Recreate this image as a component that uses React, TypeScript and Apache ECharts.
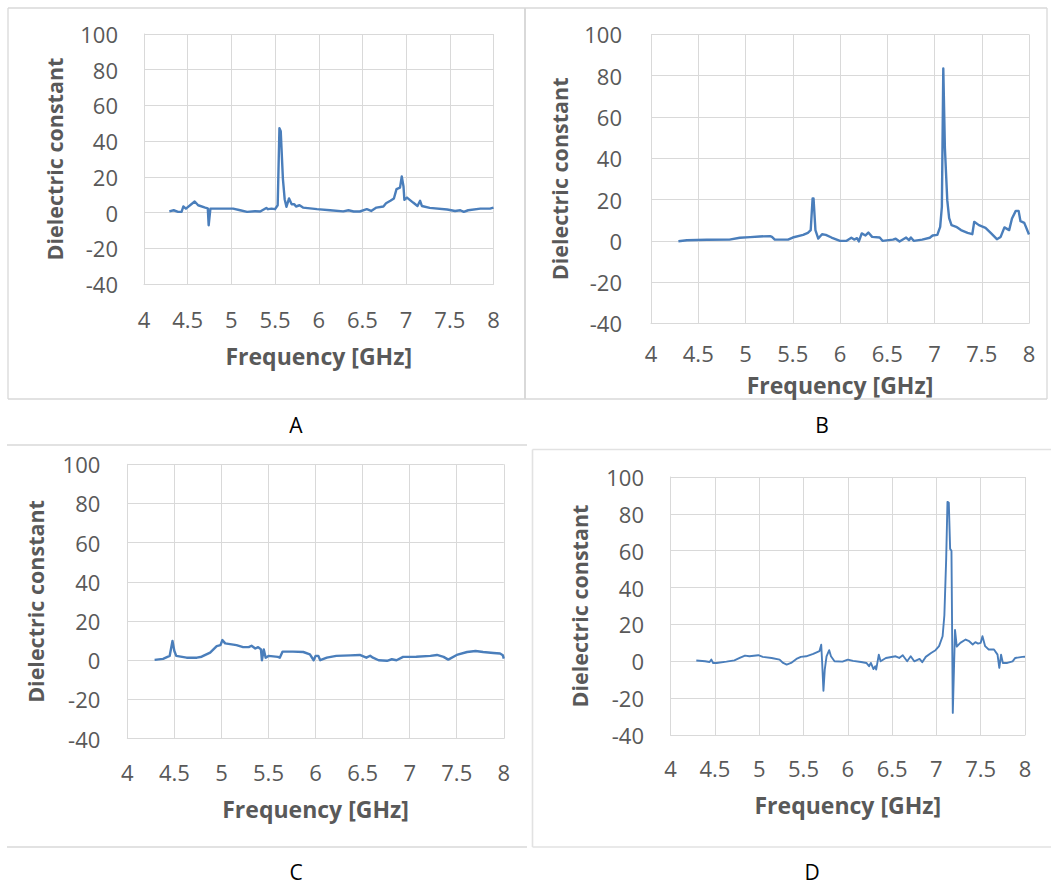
import React, { useEffect, useRef } from "react";
import * as echarts from "echarts";

// ---------- data ----------
const panelLabels = ["A", "B", "C", "D"];
const xAxisTitle = "Frequency [GHz]";
const yAxisTitle = "Dielectric constant";
const xMin = 4;
const xMax = 8;
const xStep = 0.5;
const yMin = -40;
const yMax = 100;
const yStep = 20;

const freqA = [4.29, 4.34, 4.39, 4.43, 4.45, 4.48, 4.58, 4.62, 4.70, 4.73, 4.74, 4.76, 5.02, 5.10, 5.18, 5.27, 5.33, 5.40, 5.42, 5.46, 5.50, 5.53, 5.55, 5.565, 5.59, 5.61, 5.63, 5.66, 5.69, 5.72, 5.74, 5.78, 5.82, 5.98, 6.13, 6.28, 6.34, 6.40, 6.47, 6.55, 6.60, 6.66, 6.74, 6.77, 6.82, 6.86, 6.89, 6.93, 6.95, 6.97, 6.98, 7.01, 7.08, 7.13, 7.16, 7.18, 7.27, 7.47, 7.56, 7.62, 7.66, 7.71, 7.85, 7.96, 8.0];
const epsA = [0.7, 1.3, 0.4, 0.4, 3.4, 2.2, 6.2, 4.1, 2.8, 2.4, -7.1, 2.2, 2.2, 1.3, 0.4, 0.7, 0.6, 2.6, 1.9, 2.2, 1.9, 4.1, 47.2, 45.5, 18.7, 7.5, 3.2, 7.9, 4.7, 4.7, 3.4, 4.1, 2.8, 1.9, 1.3, 0.7, 1.3, 0.6, 0.6, 1.9, 0.9, 2.8, 3.4, 5.2, 6.6, 7.9, 13.1, 14, 20.2, 14.6, 7.1, 8.4, 5.6, 3.7, 6.6, 3.7, 2.6, 1.7, 0.9, 1.3, 0.4, 1.3, 2.2, 2.2, 2.8];

const freqB = [4.29, 4.38, 4.59, 4.83, 4.94, 5.05, 5.15, 5.26, 5.28, 5.31, 5.36, 5.45, 5.50, 5.61, 5.66, 5.69, 5.71, 5.72, 5.74, 5.77, 5.81, 5.85, 5.91, 6.0, 6.07, 6.12, 6.15, 6.18, 6.20, 6.23, 6.27, 6.30, 6.34, 6.42, 6.45, 6.56, 6.59, 6.63, 6.70, 6.73, 6.75, 6.78, 6.87, 6.95, 6.98, 7.03, 7.06, 7.078, 7.093, 7.11, 7.135, 7.155, 7.18, 7.23, 7.28, 7.35, 7.40, 7.42, 7.47, 7.54, 7.60, 7.66, 7.70, 7.74, 7.79, 7.82, 7.86, 7.89, 7.91, 7.95, 8.0];
const epsB = [-0.2, 0.3, 0.5, 0.6, 1.5, 1.8, 2.1, 2.3, 1.9, 0.6, 0.6, 0.6, 1.6, 2.9, 3.9, 5.2, 20.5, 20.5, 5.2, 1.1, 3.2, 2.9, 1.6, 0, 0, 1.5, 0.6, 1.3, -0.3, 3.6, 2.6, 4.0, 1.9, 1.6, 0, 0.6, 1.0, -0.3, 1.6, 0.3, 1.6, 0, 0.6, 1.5, 2.6, 2.9, 6.8, 16.5, 83.5, 45, 19.7, 11, 7.6, 6.8, 5.2, 3.9, 3.2, 9.2, 7.6, 6.3, 3.6, 0.8, 1.9, 6.5, 5.2, 10.8, 14.5, 14.5, 9.5, 8.7, 3.1];

const freqC = [4.29, 4.38, 4.45, 4.48, 4.50, 4.52, 4.63, 4.74, 4.79, 4.88, 4.95, 4.99, 5.01, 5.04, 5.16, 5.23, 5.29, 5.32, 5.36, 5.39, 5.42, 5.43, 5.45, 5.47, 5.50, 5.60, 5.62, 5.65, 5.76, 5.87, 5.94, 5.98, 6.00, 6.03, 6.05, 6.12, 6.22, 6.37, 6.47, 6.54, 6.58, 6.61, 6.67, 6.76, 6.81, 6.86, 6.93, 7.07, 7.22, 7.29, 7.36, 7.41, 7.50, 7.61, 7.70, 7.78, 7.89, 7.96, 7.99, 8.0];
const epsC = [0.2, 0.7, 2.2, 9.8, 4.7, 2.2, 1.3, 1.3, 1.8, 3.9, 7.2, 7.7, 10.3, 8.6, 7.7, 6.7, 6.7, 7.4, 6.0, 6.7, 5.5, 0, 5.5, 1.3, 2.2, 1.7, 1.3, 4.4, 4.4, 4.2, 3.0, 0, 2.2, 2.2, 0, 1.3, 2.2, 2.5, 2.7, 1.3, 2.3, 1.3, 0, -0.3, 0.5, 0, 1.7, 1.8, 2.2, 2.7, 1.7, 0.3, 2.7, 4.2, 4.7, 4.2, 3.7, 3.4, 2.5, 0.8];

const freqD = [4.29, 4.39, 4.44, 4.46, 4.48, 4.52, 4.63, 4.72, 4.78, 4.84, 4.89, 4.99, 5.04, 5.14, 5.23, 5.27, 5.31, 5.36, 5.42, 5.47, 5.53, 5.61, 5.68, 5.70, 5.71, 5.725, 5.74, 5.76, 5.79, 5.81, 5.85, 5.94, 6.00, 6.06, 6.15, 6.21, 6.24, 6.26, 6.29, 6.31, 6.32, 6.35, 6.37, 6.43, 6.54, 6.58, 6.62, 6.67, 6.71, 6.75, 6.81, 6.84, 6.88, 6.94, 6.99, 7.03, 7.07, 7.09, 7.11, 7.125, 7.14, 7.155, 7.17, 7.185, 7.21, 7.23, 7.27, 7.33, 7.37, 7.41, 7.44, 7.47, 7.50, 7.52, 7.55, 7.59, 7.65, 7.69, 7.71, 7.73, 7.75, 7.80, 7.86, 7.89, 7.97, 8.0];
const epsD = [0.4, 0, -0.4, 0.9, -0.9, -0.9, -0.2, 0.5, 1.8, 3.1, 2.7, 3.3, 2.4, 1.8, 0.9, -0.9, -1.8, -0.9, 1.3, 2.4, 2.7, 4.0, 5.5, 9.0, 0, -16, -4.5, 2.7, 6.0, 2.7, 0, -0.2, 0.9, 0.2, -0.4, -0.9, -2.7, -0.9, -4.2, -2.7, -4.5, 3.6, 0, 1.8, 2.7, 1.8, 3.3, 0, 2.7, 0, 1.3, -0.5, 2.4, 4.5, 6.0, 8.2, 13.6, 25, 55, 86.5, 86, 61, 60, -28, 17, 8, 10, 11.8, 10.9, 9.1, 10.4, 9.6, 10, 13.6, 8.2, 6.4, 6.4, 3.6, -3.6, 3.6, -0.9, -0.9, 0, 1.8, 2.4, 2.5];

const freqs = [freqA, freqB, freqC, freqD];
const values = [epsA, epsB, epsC, epsD];

// ---------- layout / style ----------
const W = 1051;
const H = 886;
const FONT = "'Open Sans', 'Noto Sans', sans-serif";
const TEXT = "#595959";
const GRIDC = "#d9d9d9";
const LINEC = "#4a7ebb";

const layouts = [
  { left: 144, top: 34, width: 349.5, height: 250, xm: 24, ym: 26, xg: 60, yg: 79, lw: 2.4, cap: [296, 425] },
  { left: 651, top: 34.4, width: 378, height: 289, xm: 19, ym: 29, xg: 50, yg: 81, lw: 2.4, cap: [822, 425] },
  { left: 127.3, top: 464.3, width: 376.5, height: 274.3, xm: 22, ym: 27, xg: 59, yg: 80.5, lw: 2.4, cap: [296, 872] },
  { left: 670.6, top: 477, width: 354.4, height: 258, xm: 21.5, ym: 26.6, xg: 58.5, yg: 80.6, lw: 1.9, cap: [812, 872] },
];

function frameLine(x1: number, y1: number, x2: number, y2: number, color = GRIDC, w = 1.3) {
  return { type: "line", silent: true, shape: { x1, y1, x2, y2 }, style: { stroke: color, lineWidth: w } };
}

export default function App() {
  const ref = useRef<HTMLDivElement>(null);
  useEffect(() => {
    if (!ref.current) return;
    const chart = echarts.init(ref.current, undefined, { renderer: "svg" });
    const grid = layouts.map((l) => ({ left: l.left, top: l.top, width: l.width, height: l.height, containLabel: false }));
    const xAxis = layouts.map((l, i) => ({
      type: "value",
      gridIndex: i,
      min: xMin,
      max: xMax,
      interval: xStep,
      name: xAxisTitle,
      nameLocation: "middle",
      nameGap: l.xg,
      nameTextStyle: { fontFamily: FONT, fontSize: 23, fontWeight: "bold", color: TEXT },
      axisLine: { show: true, onZero: false, lineStyle: { color: GRIDC, width: 1 } },
      axisTick: { show: false },
      axisLabel: { margin: l.xm, fontFamily: FONT, fontSize: 22, color: TEXT },
      splitLine: { show: true, lineStyle: { color: GRIDC, width: 1 } },
    }));
    const yAxis = layouts.map((l, i) => ({
      type: "value",
      gridIndex: i,
      min: yMin,
      max: yMax,
      interval: yStep,
      name: yAxisTitle,
      nameLocation: "middle",
      nameRotate: 90,
      nameGap: l.yg,
      nameTextStyle: { fontFamily: FONT, fontSize: 21.5, fontWeight: "bold", color: TEXT },
      axisLine: { show: true, lineStyle: { color: GRIDC, width: 1 } },
      axisTick: { show: false },
      axisLabel: { margin: l.ym, fontFamily: FONT, fontSize: 22, color: TEXT },
      splitLine: { show: true, lineStyle: { color: GRIDC, width: 1 } },
    }));
    const series = layouts.map((l, i) => ({
      type: "line",
      xAxisIndex: i,
      yAxisIndex: i,
      data: freqs[i].map((f, k) => [f, values[i][k]]),
      showSymbol: false,
      symbol: "none",
      lineStyle: { color: LINEC, width: l.lw, join: "round" },
      silent: true,
    }));
    const graphic: any[] = [
      frameLine(8, 8, 1047, 8),
      frameLine(8, 8, 8, 399),
      frameLine(8, 399, 1047, 399),
      frameLine(1047, 8, 1047, 399),
      frameLine(525, 8, 525, 399, GRIDC, 2),
      frameLine(7, 445, 527, 445),
      frameLine(7, 847, 527, 847),
      frameLine(532.5, 449.5, 1051, 449.5, "#e2e2e2", 1.6),
      frameLine(532.5, 449.5, 532.5, 847, "#e2e2e2", 1.6),
      frameLine(532.5, 847, 1051, 847, "#e2e2e2", 1.6),
      ...layouts.map((l, i) => ({
        type: "text",
        silent: true,
        x: l.cap[0],
        y: l.cap[1],
        style: { text: panelLabels[i], fontFamily: FONT, fontSize: 21, fill: "#000000", align: "center", verticalAlign: "middle" },
      })),
    ];
    chart.setOption({
      animation: false,
      backgroundColor: "#ffffff",
      grid,
      xAxis,
      yAxis,
      series,
      graphic,
    });
    return () => chart.dispose();
  }, []);
  return <div ref={ref} style={{ position: "absolute", left: 0, top: 0, width: W, height: H }} />;
}
